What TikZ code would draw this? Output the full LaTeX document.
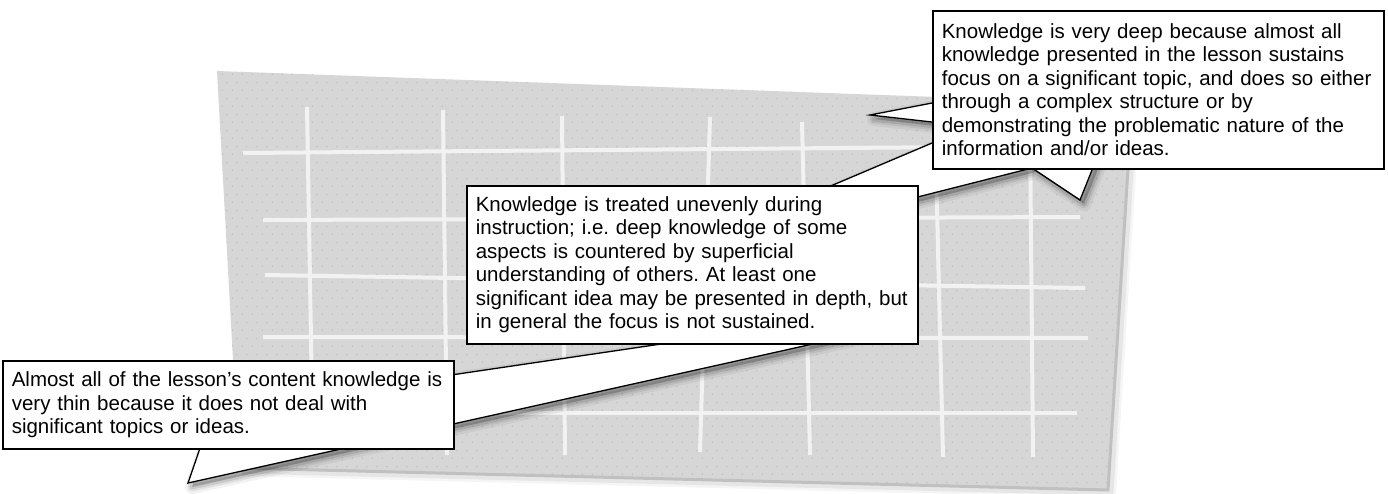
\documentclass[tikz,border=0pt]{standalone}
\usepackage{fontspec}
\setmainfont{Liberation Sans}
\usetikzlibrary{patterns}

% fine dot texture of the grey panel
\pgfdeclarepatternformonly{paneldots}{\pgfqpoint{0pt}{0pt}}{\pgfqpoint{10pt}{16pt}}{\pgfqpoint{10pt}{16pt}}{%
  \pgfpathcircle{\pgfqpoint{2.5pt}{4pt}}{0.8pt}%
  \pgfpathcircle{\pgfqpoint{7.5pt}{12pt}}{0.8pt}%
  \pgfusepath{fill}%
}

\definecolor{panelgray}{HTML}{D6D6D6}
\definecolor{dotgray}{HTML}{BABABA}
\definecolor{gridwhite}{HTML}{F2F2F2}
\definecolor{edgegray}{HTML}{C0C0C0}

\tikzset{
  callout/.style={draw=black, fill=white, line width=1.6pt, anchor=north west,
    align=left, inner xsep=9pt, inner ysep=0pt, text width=433pt,
    font=\fontsize{20.5pt}{23.5pt}\selectfont\frenchspacing, text=black},
  pointer/.style={draw=black, fill=white, line width=1.3pt, line join=miter},
  gridline/.style={draw=gridwhite, line width=4pt},
  softshade/.style={black, line join=round},
}

% soft drop shadow below and right of a closed path
\newcommand\castshadow[1]{%
  \begin{scope}[transform canvas={shift={(4pt,-4pt)}}]
    \draw[softshade, opacity=0.05, line width=14pt] #1;
    \draw[softshade, opacity=0.07, line width=9pt] #1;
    \draw[softshade, opacity=0.10, line width=5pt] #1;
    \fill[softshade, opacity=0.22] #1;
  \end{scope}}

\begin{document}
\frenchspacing
\begin{tikzpicture}[x=1pt, y=-1pt]
\useasboundingbox[fill=white] (0,0) rectangle (1388,493);

% ---- grey grid panel ----
\coordinate (pTL) at (217,71);
\coordinate (pTR) at (1132,104);
\coordinate (pBR) at (1108,490);
\coordinate (pBL) at (239,468);

\begin{scope}[transform canvas={shift={(3pt,-3pt)}}]
  \draw[black, opacity=0.04, line width=10pt, line join=round] (pTR) -- (pBR) -- (pBL);
  \draw[black, opacity=0.06, line width=5pt, line join=round] (pTR) -- (pBR) -- (pBL);
\end{scope}
\fill[panelgray] (pTL) -- (pTR) -- (pBR) -- (pBL) -- cycle;
\fill[pattern=paneldots, pattern color=dotgray] (pTL) -- (pTR) -- (pBR) -- (pBL) -- cycle;
\draw[edgegray, line width=3pt, line join=round] (pTR) -- (pBR) -- (pBL);

% horizontal grid lines
\draw[gridline] (243,153) -- (1080,146);
\draw[gridline] (263,220) -- (1080,217);
\draw[gridline] (265,275) -- (1085,288);
\draw[gridline] (263,337) -- (1088,338);
\draw[gridline] (470,413) -- (1077,413);
% vertical grid lines
\draw[gridline] (307,107) -- (313,455);
\draw[gridline] (443,110) -- (447,455);
\draw[gridline] (562,116) -- (565,455);
\draw[gridline] (710,117) -- (700,452);
\draw[gridline] (802,122) -- (810,455);
\draw[gridline] (935,125) -- (943,457);
\draw[gridline] (1030,128) -- (1033,457);

% ---- pointer outlines ----
% side spike of the upper box
\coordinate (sA) at (945,100.5);
\coordinate (sTip) at (870,115);
\coordinate (sB) at (945,123.5);
% band from the upper box with its downward notch
\coordinate (rA) at (945,137.5);
\coordinate (rB) at (800,199);
\coordinate (rC) at (890,204);
\coordinate (rD) at (1032,168);
\coordinate (vTip) at (1080,200);
\coordinate (vB) at (1098,155);
% band from the middle box down to the lower tip
\coordinate (bTip) at (188,483);
\coordinate (bA) at (900,324.6);
\coordinate (bB) at (760,329.4);
\coordinate (bC) at (420,379.6);
\coordinate (bD) at (208,425);

\castshadow{(bTip) -- (bA) -- (bB) -- (bC) -- (bD) -- cycle}
\castshadow{(rA) -- (rB) -- (rC) -- (rD) -- (vTip) -- (vB) -- cycle}
\castshadow{(sA) -- (sTip) -- (sB) -- cycle}

\path[pointer] (bTip) -- (bA) -- (bB) -- (bC) -- (bD) -- cycle;
\path[pointer] (rA) -- (rB) -- (rC) -- (rD) -- (vTip) -- (vB) -- cycle;
\path[pointer] (sA) -- (sTip) -- (sB) -- cycle;

% ---- text boxes ----
\node[callout, minimum height=158pt] (deep) at (932,10) {Knowledge is very deep because almost all\\
knowledge presented in the lesson sustains\\
focus on a significant topic, and does so either\\
through a complex structure or by\\
demonstrating the problematic nature of the\\
information and/or ideas.};

\node[callout, minimum height=158pt] (uneven) at (466,185) {Knowledge is treated unevenly during\\
instruction; i.e. deep knowledge of some\\
aspects is countered by superficial\\
understanding of others. At least one\\
significant idea may be presented in depth, but\\
in general the focus is not sustained.};

\node[callout, minimum height=88pt] (thin) at (2,360) {Almost all of the lesson’s content knowledge is\\
very thin because it does not deal with\\
significant topics or ideas.};
\end{tikzpicture}
\end{document}
